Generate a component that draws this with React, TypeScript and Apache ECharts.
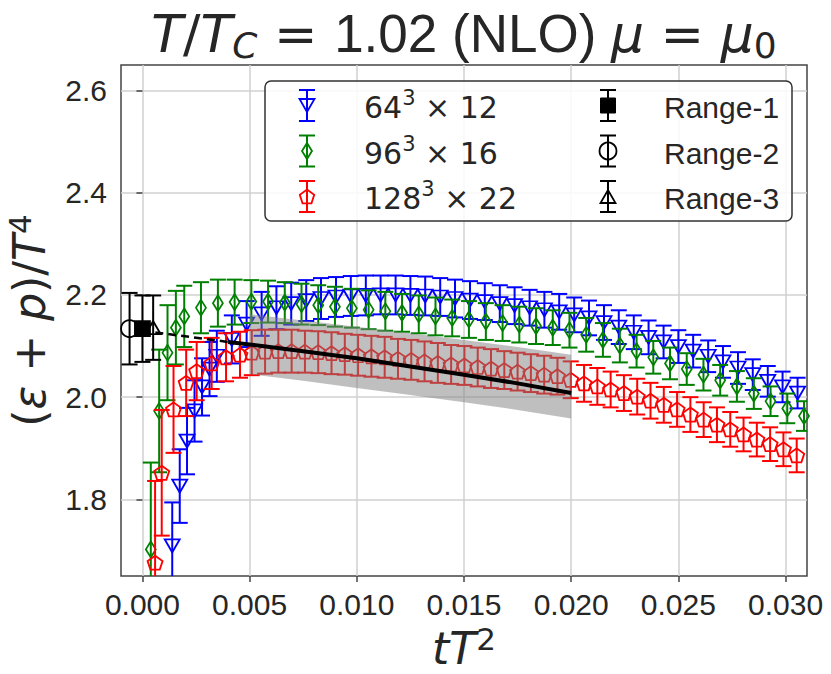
import React, { useEffect, useRef } from 'react';
import * as echarts from 'echarts';

// ---- axis ticks ----
const xTicks = [0, 0.005, 0.01, 0.015, 0.02, 0.025, 0.03];
const yTicks = [1.8, 2.0, 2.2, 2.4, 2.6];

// ---- 64^3 x 12 (blue) ----
const blueX = [0.00139, 0.00174, 0.00208, 0.00243, 0.00278, 0.00313, 0.00347, 0.00417, 0.00486, 0.00556, 0.00625, 0.00694, 0.00764, 0.00833, 0.00903, 0.00972, 0.01042, 0.01111, 0.01181, 0.0125, 0.01319, 0.01389, 0.01458, 0.01528, 0.01597, 0.01667, 0.01736, 0.01806, 0.01875, 0.01944, 0.02014, 0.02083, 0.02153, 0.02222, 0.02292, 0.02361, 0.02431, 0.025, 0.02569, 0.02639, 0.02708, 0.02778, 0.02847, 0.02917, 0.02986, 0.03056];
const blueY = [1.709, 1.826, 1.914, 1.973, 2.02, 2.055, 2.08, 2.113, 2.143, 2.163, 2.175, 2.183, 2.189, 2.193, 2.196, 2.198, 2.199, 2.2, 2.2, 2.199, 2.198, 2.196, 2.193, 2.19, 2.187, 2.183, 2.179, 2.175, 2.171, 2.167, 2.161, 2.155, 2.146, 2.137, 2.127, 2.117, 2.108, 2.099, 2.09, 2.08, 2.069, 2.057, 2.044, 2.031, 2.02, 2.008];
const blueErr = [0.085, 0.072, 0.065, 0.06, 0.056, 0.053, 0.05, 0.047, 0.045, 0.043, 0.042, 0.041, 0.04, 0.04, 0.039, 0.039, 0.039, 0.038, 0.038, 0.038, 0.038, 0.037, 0.037, 0.037, 0.036, 0.036, 0.036, 0.035, 0.035, 0.035, 0.034, 0.034, 0.034, 0.033, 0.033, 0.033, 0.032, 0.032, 0.032, 0.031, 0.031, 0.031, 0.03, 0.03, 0.03, 0.03];

// ---- 96^3 x 16 (green) ----
const greenX = [0.00039, 0.00078, 0.00117, 0.00156, 0.00195, 0.00273, 0.00352, 0.0043, 0.00508, 0.00586, 0.00664, 0.00742, 0.0082, 0.00898, 0.00977, 0.01055, 0.01133, 0.01211, 0.01289, 0.01367, 0.01445, 0.01523, 0.01602, 0.0168, 0.01758, 0.01836, 0.01914, 0.01992, 0.0207, 0.02148, 0.02227, 0.02305, 0.02383, 0.02461, 0.02539, 0.02617, 0.02695, 0.02773, 0.02852, 0.0293, 0.03008, 0.03086];
const greenY = [1.702, 1.973, 2.087, 2.136, 2.158, 2.175, 2.184, 2.186, 2.187, 2.187, 2.185, 2.182, 2.18, 2.177, 2.174, 2.171, 2.168, 2.165, 2.162, 2.158, 2.155, 2.152, 2.148, 2.145, 2.142, 2.139, 2.136, 2.131, 2.122, 2.112, 2.101, 2.09, 2.078, 2.066, 2.055, 2.044, 2.033, 2.021, 2.007, 1.992, 1.978, 1.963];
const greenErr = [0.17, 0.12, 0.093, 0.072, 0.06, 0.05, 0.046, 0.044, 0.042, 0.041, 0.04, 0.04, 0.039, 0.039, 0.038, 0.038, 0.038, 0.037, 0.037, 0.037, 0.036, 0.036, 0.036, 0.035, 0.035, 0.035, 0.034, 0.034, 0.033, 0.033, 0.033, 0.032, 0.032, 0.031, 0.031, 0.031, 0.03, 0.03, 0.03, 0.029, 0.029, 0.029];

// ---- 128^3 x 22 (red) ----
const redX = [0.00059, 0.0009, 0.00145, 0.00204, 0.00253, 0.00323, 0.0039, 0.00455, 0.0051, 0.00572, 0.00634, 0.00696, 0.00758, 0.0082, 0.00882, 0.00944, 0.01006, 0.01068, 0.0113, 0.01192, 0.01254, 0.01316, 0.01378, 0.0144, 0.01502, 0.01564, 0.01626, 0.01688, 0.0175, 0.01812, 0.01874, 0.01936, 0.01998, 0.0206, 0.02122, 0.02184, 0.02246, 0.02308, 0.0237, 0.02432, 0.02494, 0.02556, 0.02618, 0.0268, 0.02742, 0.02804, 0.02866, 0.02928, 0.0299, 0.03052];
const redY = [1.676, 1.852, 1.976, 2.028, 2.051, 2.066, 2.078, 2.083, 2.087, 2.089, 2.09, 2.09, 2.089, 2.088, 2.086, 2.084, 2.082, 2.08, 2.078, 2.075, 2.073, 2.07, 2.067, 2.064, 2.062, 2.059, 2.056, 2.053, 2.05, 2.047, 2.044, 2.041, 2.034, 2.027, 2.021, 2.015, 2.008, 2.001, 1.993, 1.985, 1.976, 1.966, 1.956, 1.946, 1.937, 1.927, 1.917, 1.908, 1.898, 1.886];
const redErr = [0.16, 0.123, 0.085, 0.065, 0.057, 0.05, 0.047, 0.045, 0.044, 0.043, 0.042, 0.042, 0.041, 0.041, 0.041, 0.04, 0.04, 0.04, 0.04, 0.039, 0.039, 0.039, 0.039, 0.038, 0.038, 0.038, 0.038, 0.037, 0.037, 0.037, 0.037, 0.036, 0.036, 0.036, 0.036, 0.035, 0.035, 0.035, 0.035, 0.035, 0.034, 0.034, 0.034, 0.034, 0.034, 0.033, 0.033, 0.033, 0.033, 0.033];

// ---- continuum fit band and line ----
const bandX = [0.005, 0.0075, 0.01, 0.0125, 0.015, 0.0175, 0.02];
const bandUpper = [2.162, 2.15, 2.138, 2.125, 2.112, 2.098, 2.083];
const bandLower = [2.045, 2.032, 2.018, 2.004, 1.99, 1.975, 1.958];
const fitX = [0.004, 0.005, 0.0075, 0.01, 0.0125, 0.015, 0.0175, 0.02];
const fitY = [2.108, 2.103, 2.09, 2.076, 2.06, 2.044, 2.027, 2.008];
const extrapX = [0, 0.004];
const extrapY = [2.13, 2.108];

// ---- t -> 0 extrapolated results ----
const range1 = [0, 2.134, 0.065];
const range2 = [-0.0006, 2.134, 0.07];
const range3 = [0.0005, 2.136, 0.063];

const TXT = '#262626';
const DJ = 'DejaVu Sans';
const LS = 'Liberation Sans';
const CAP = 8;

function zip2(x: number[], y: number[]) {
  return x.map((v, i) => [v, y[i]]);
}
function zip3(x: number[], y: number[], e: number[]) {
  return x.map((v, i) => [v, y[i], e[i]]);
}

function errorBars(data: number[][], color: string, z: number) {
  return {
    type: 'custom',
    z,
    clip: true,
    silent: true,
    data,
    encode: { x: 0, y: 1 },
    renderItem: (_params: any, api: any) => {
      const x = api.value(0);
      const y = api.value(1);
      const e = api.value(2);
      const t = api.coord([x, y + e]);
      const b = api.coord([x, y - e]);
      const s = { stroke: color, lineWidth: 2 };
      return {
        type: 'group',
        children: [
          { type: 'line', shape: { x1: t[0], y1: t[1], x2: b[0], y2: b[1] }, style: s },
          { type: 'line', shape: { x1: t[0] - CAP, y1: t[1], x2: t[0] + CAP, y2: t[1] }, style: s },
          { type: 'line', shape: { x1: b[0] - CAP, y1: b[1], x2: b[0] + CAP, y2: b[1] }, style: s },
        ],
      };
    },
  };
}

const PENTAGON = 'path://M0,-1L0.951,-0.309L0.588,0.809L-0.588,0.809L-0.951,-0.309Z';

function markers(data: number[][], color: string, z: number, symbol: string, size: any, rotate = 0, filled = false) {
  return {
    type: 'scatter',
    z,
    silent: true,
    clip: true,
    data,
    symbol,
    symbolSize: size,
    symbolRotate: rotate,
    itemStyle: {
      color: filled ? color : 'rgba(255,255,255,0)',
      borderColor: color,
      borderWidth: 1.8,
      opacity: 1,
    },
  };
}

// ---- legend (drawn as graphic) ----
const LEG = { x: 265, y: 81, w: 527, h: 140 };
const legRows = [105.5, 151, 196.5];
const legCol1 = 307;
const legCol2 = 608;
const legText1 = 364;
const legText2 = 664;

function legendGlyph(cx: number, cy: number, color: string, marker: string) {
  const s = { stroke: color, lineWidth: 2 };
  const els: any[] = [
    { type: 'line', z: 101, shape: { x1: cx, y1: cy - 15.5, x2: cx, y2: cy + 15.5 }, style: s },
    { type: 'line', z: 101, shape: { x1: cx - CAP, y1: cy - 15.5, x2: cx + CAP, y2: cy - 15.5 }, style: s },
    { type: 'line', z: 101, shape: { x1: cx - CAP, y1: cy + 15.5, x2: cx + CAP, y2: cy + 15.5 }, style: s },
  ];
  const ms = { stroke: color, lineWidth: 1.8, fill: 'rgba(255,255,255,0)' };
  if (marker === 'tridown') {
    els.push({ type: 'polygon', z: 102, shape: { points: [[cx - 7.5, cy - 6.5], [cx + 7.5, cy - 6.5], [cx, cy + 6.5]] }, style: ms });
  } else if (marker === 'triup') {
    els.push({ type: 'polygon', z: 102, shape: { points: [[cx - 7.5, cy + 6.5], [cx + 7.5, cy + 6.5], [cx, cy - 6.5]] }, style: ms });
  } else if (marker === 'diamond') {
    els.push({ type: 'polygon', z: 102, shape: { points: [[cx, cy - 8], [cx + 5, cy], [cx, cy + 8], [cx - 5, cy]] }, style: ms });
  } else if (marker === 'pentagon') {
    const pts: number[][] = [];
    for (let k = 0; k < 5; k++) {
      const a = (-90 + 72 * k) * Math.PI / 180;
      pts.push([cx + 7.6 * Math.cos(a), cy + 0.7 + 7.6 * Math.sin(a)]);
    }
    els.push({ type: 'polygon', z: 102, shape: { points: pts }, style: ms });
  } else if (marker === 'square') {
    els.push({ type: 'rect', z: 102, shape: { x: cx - 7.5, y: cy - 7.5, width: 15, height: 15 }, style: { fill: color, stroke: color, lineWidth: 1 } });
  } else if (marker === 'circle') {
    els.push({ type: 'circle', z: 102, shape: { cx, cy, r: 8.5 }, style: ms });
  }
  return els;
}

function legendMathText(x: number, y: number, base: string, sup: string, rest: string) {
  return {
    type: 'text',
    z: 102,
    x,
    y,
    style: {
      text: `{n|${base}}{s|${sup}}{n|${rest}}`,
      align: 'left',
      verticalAlign: 'middle',
      fill: TXT,
      rich: {
        n: { fontFamily: DJ, fontSize: 30, lineHeight: 40, fill: TXT },
        s: { fontFamily: DJ, fontSize: 21, lineHeight: 21, verticalAlign: 'top', fill: TXT },
      },
    },
  };
}

function legendPlainText(x: number, y: number, text: string) {
  return {
    type: 'text',
    z: 102,
    x,
    y,
    style: { text, fontFamily: LS, fontSize: 30, fill: TXT, align: 'left', verticalAlign: 'middle' },
  };
}

const legendElements: any[] = [
  {
    type: 'rect',
    z: 100,
    shape: { x: LEG.x, y: LEG.y, width: LEG.w, height: LEG.h, r: 6 },
    style: { fill: 'rgba(255,255,255,0.85)', stroke: '#333333', lineWidth: 1.5 },
  },
  ...legendGlyph(legCol1, legRows[0], '#0000ff', 'tridown'),
  ...legendGlyph(legCol1, legRows[1], '#008000', 'diamond'),
  ...legendGlyph(legCol1, legRows[2], '#ff0000', 'pentagon'),
  ...legendGlyph(legCol2, legRows[0], '#000000', 'square'),
  ...legendGlyph(legCol2, legRows[1], '#000000', 'circle'),
  ...legendGlyph(legCol2, legRows[2], '#000000', 'triup'),
  legendMathText(legText1, legRows[0] + 2, '64', '3', ' × 12'),
  legendMathText(legText1, legRows[1] + 2, '96', '3', ' × 16'),
  legendMathText(legText1, legRows[2] + 2, '128', '3', ' × 22'),
  legendPlainText(legText2, legRows[0] + 2, 'Range-1'),
  legendPlainText(legText2, legRows[1] + 2, 'Range-2'),
  legendPlainText(legText2, legRows[2] + 2, 'Range-3'),
];

const titleElement = {
  type: 'text',
  z: 102,
  x: 464,
  y: 33.5,
  style: {
    text: '{i|T}{m|/}{i|T}{s|C}{m| = }{n|1.02 (NLO) }{i|μ}{m| = }{i|μ}{z|0}',
    align: 'center',
    verticalAlign: 'middle',
    fill: TXT,
    rich: {
      i: { fontFamily: DJ, fontStyle: 'italic', fontSize: 52, lineHeight: 59, fill: TXT },
      m: { fontFamily: DJ, fontSize: 52, lineHeight: 59, fill: TXT },
      n: { fontFamily: LS, fontSize: 53, lineHeight: 59, fill: TXT },
      s: { fontFamily: DJ, fontStyle: 'italic', fontSize: 36, lineHeight: 35, verticalAlign: 'bottom', fill: TXT },
      z: { fontFamily: DJ, fontSize: 36, lineHeight: 35, verticalAlign: 'bottom', fill: TXT },
    },
  },
};

const option: any = {
  animation: false,
  backgroundColor: '#ffffff',
  grid: {
    left: 121,
    top: 65,
    width: 686,
    height: 511,
    show: true,
    borderColor: '#444444',
    borderWidth: 1.5,
    backgroundColor: '#ffffff',
    outerBoundsMode: 'none',
    containLabel: false,
  },
  xAxis: {
    type: 'value',
    min: -0.001,
    max: 0.031,
    axisLine: { show: false },
    axisTick: { show: true, customValues: xTicks, length: 6, lineStyle: { color: '#444444', width: 1.5 } },
    axisLabel: {
      customValues: xTicks,
      formatter: (v: number) => v.toFixed(3),
      margin: 13,
      fontSize: 30,
      fontFamily: LS,
      color: TXT,
    },
    splitLine: { show: true, lineStyle: { color: '#d0d0d0', width: 1.5 } },
    name: '{i|tT}{sup|2}',
    nameLocation: 'middle',
    nameGap: 42,
    nameTextStyle: {
      fontFamily: DJ,
      fontSize: 44,
      color: TXT,
      lineHeight: 50,
      rich: {
        i: { fontFamily: DJ, fontStyle: 'italic', fontSize: 44, lineHeight: 50, color: TXT },
        sup: { fontFamily: DJ, fontSize: 31, lineHeight: 30, verticalAlign: 'top', color: TXT },
      },
    },
  },
  yAxis: {
    type: 'value',
    min: 1.65,
    max: 2.65,
    axisLine: { show: false },
    axisTick: { show: true, customValues: yTicks, length: 6, lineStyle: { color: '#444444', width: 1.5 } },
    axisLabel: {
      customValues: yTicks,
      formatter: (v: number) => v.toFixed(1),
      margin: 14,
      fontSize: 30,
      fontFamily: LS,
      color: TXT,
    },
    splitLine: { show: true, lineStyle: { color: '#d0d0d0', width: 1.5 } },
    name: '{m|(}{i|ε}{m| + }{i|p}{m|)/}{i|T}{sup|4}',
    nameLocation: 'middle',
    nameRotate: 90,
    nameGap: 61,
    nameTextStyle: {
      fontFamily: DJ,
      fontSize: 44,
      color: TXT,
      lineHeight: 50,
      rich: {
        m: { fontFamily: DJ, fontSize: 44, lineHeight: 50, color: TXT },
        i: { fontFamily: DJ, fontStyle: 'italic', fontSize: 44, lineHeight: 50, color: TXT },
        sup: { fontFamily: DJ, fontSize: 31, lineHeight: 30, verticalAlign: 'top', color: TXT },
      },
    },
  },
  graphic: { elements: [titleElement, ...legendElements] },
  series: [
    errorBars(zip3(blueX, blueY, blueErr), '#0000ff', 2),
    markers(zip2(blueX, blueY), '#0000ff', 3, 'triangle', [15, 13], 180),
    errorBars(zip3(greenX, greenY, greenErr), '#008000', 4),
    markers(zip2(greenX, greenY), '#008000', 5, 'diamond', [10, 16]),
    errorBars(zip3(redX, redY, redErr), '#ff0000', 6),
    markers(zip2(redX, redY), '#ff0000', 7, PENTAGON, [15, 14]),
    {
      type: 'custom',
      z: 8,
      clip: true,
      silent: true,
      data: [[bandX[0], bandUpper[0]]],
      encode: { x: 0, y: 1 },
      renderItem: (_params: any, api: any) => {
        const pts: number[][] = [];
        bandX.forEach((x, i) => pts.push(api.coord([x, bandUpper[i]])));
        for (let i = bandX.length - 1; i >= 0; i--) pts.push(api.coord([bandX[i], bandLower[i]]));
        return { type: 'polygon', shape: { points: pts }, style: { fill: 'rgba(128,128,128,0.5)' } };
      },
    },
    {
      type: 'line',
      z: 9,
      silent: true,
      data: zip2(fitX, fitY),
      symbol: 'none',
      lineStyle: { color: '#000000', width: 4 },
    },
    {
      type: 'line',
      z: 9,
      silent: true,
      data: zip2(extrapX, extrapY),
      symbol: 'none',
      lineStyle: { color: '#000000', width: 2.5, type: [8, 5] },
    },
    errorBars([range2], '#000000', 10),
    errorBars([range1], '#000000', 10),
    errorBars([range3], '#000000', 10),
    markers([[range2[0], range2[1]]], '#000000', 11, 'circle', 17),
    markers([[range1[0], range1[1]]], '#000000', 12, 'rect', 15, 0, true),
    markers([[range3[0], range3[1]]], '#000000', 11, 'triangle', [15, 13]),
  ],
};

export default function App() {
  const ref = useRef<HTMLDivElement>(null);
  useEffect(() => {
    const chart = echarts.init(ref.current as HTMLDivElement, null, { renderer: 'svg' });
    chart.setOption(option);
    return () => chart.dispose();
  }, []);
  return (
    <div
      ref={ref}
      style={{ position: 'fixed', left: 0, top: 0, width: 831, height: 674, background: '#ffffff' }}
    />
  );
}
